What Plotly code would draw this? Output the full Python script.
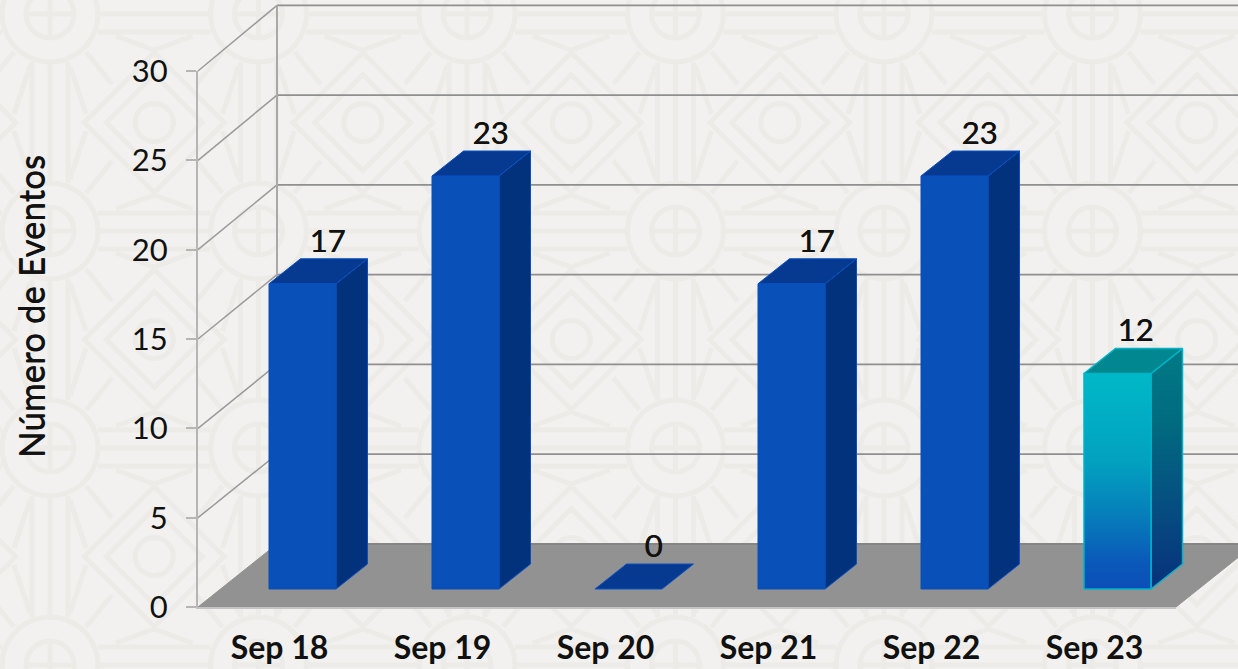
import math
import plotly.graph_objects as go

categories = ["Sep 18", "Sep 19", "Sep 20", "Sep 21", "Sep 22", "Sep 23"]
eventos = [17, 23, 0, 17, 23, 12]
y_ticks = [0, 5, 10, 15, 20, 25, 30]
y_title = "Número de Eventos"

W, H = 1238, 669
# front plane of the chart box, in page pixels
LEFT, RIGHT, FLOOR, TOP = 198, 1176, 607, 71
PX_X = (RIGHT - LEFT) / len(categories)      # pixels per category
PX_Y = (FLOOR - TOP) / y_ticks[-1]           # pixels per event

# oblique depth, in axis units
WALL_DX, WALL_DY = 79 / PX_X, 63 / PX_Y      # whole box
DEPTH_K = 1.005                              # value scale of planes behind the front one
BAR_SHIFT_X, BAR_SHIFT_Y = 22 / PX_X, 18 / PX_Y  # bars stand this far inside the box
BAR_W = 67 / PX_X
BAR_DX, BAR_DY = 31.5 / PX_X, 25 / PX_Y      # depth of each bar
BAR_OFFSET = -0.0644                         # left edge of a bar relative to its category

FONT = "Lato"
TXT = "#111111"
BG = "#f2f1ef"
PAT = "#ecebe7"
THICK = "0.5px 0 0 #111111"


# ---- watermark pattern (page decoration, paper coordinates) ----
def P(x, y):
    return f"{x / W:.5f},{1 - y / H:.5f}"


def poly(points, close=False):
    return "M" + "L".join(P(*p) for p in points) + ("Z" if close else "")


def ring(cx, cy, r):
    pts = [(cx + r * math.cos(k * math.pi / 18), cy + r * math.sin(k * math.pi / 18)) for k in range(36)]
    return poly(pts, True)


paths = []
PER_X, PER_Y = 208.5, 217
for a in range(-1, 7):
    for b in range(-1, 4):
        cx, cy = 50 + a * PER_X, 14 + b * PER_Y
        paths += [ring(cx, cy, 48), ring(cx, cy, 24)]
        paths.append(poly([(cx, cy - 24), (cx, cy + 24)]))
        paths.append(poly([(cx - 24, cy), (cx + 24, cy)]))
        dx, dy = cx + PER_X / 2, cy + PER_Y / 2
        paths += [ring(dx, dy, 19)]
        for h in (48, 70):
            paths.append(poly([(dx - h, dy), (dx, dy - h), (dx + h, dy), (dx, dy + h)], True))
        for o in (-18, 0, 18):
            paths.append(poly([(cx + o, cy + 48), (cx + o, cy + PER_Y - 48)]))
            paths.append(poly([(cx + 48, cy + o), (cx + PER_X - 48, cy + o)]))
        for sx in (-1, 1):
            for sy in (-1, 1):
                paths.append(poly([(cx + sx * 20, cy + sy * 52), (cx + sx * 36, cy + sy * 100)]))
                paths.append(poly([(cx + sx * 36, cy + sy * 38), (cx + sx * 62, cy + sy * 70)]))
                paths.append(poly([(cx + sx * 66, cy + sy * 22), (cx + sx * 104, cy + sy * 36)]))

shapes = [dict(type="path", xref="paper", yref="paper", layer="below", path="".join(paths),
               line=dict(color=PAT, width=5))]

fig = go.Figure()


def face(xs, ys, color=None, line=None, width=1, gradient=None):
    kw = dict(x=xs + xs[:1], y=ys + ys[:1], mode="lines", fill="toself", hoverinfo="skip", showlegend=False,
              line=dict(color=line or color, width=width))
    if gradient:
        kw["fillgradient"] = dict(type="vertical", colorscale=gradient)
    else:
        kw["fillcolor"] = color
    fig.add_trace(go.Scatter(**kw))


x0, x1 = -0.5, len(categories) - 0.5

# floor
face([x0, x1, x1 + WALL_DX, x0 + WALL_DX], [0, 0, WALL_DY, WALL_DY], color="#929292", line="#929292", width=1)
fig.add_trace(go.Scatter(x=[x0 + WALL_DX, x1 + WALL_DX], y=[WALL_DY, WALL_DY], mode="lines",
                         line=dict(color="#858585", width=2), hoverinfo="skip", showlegend=False))

# back wall + side wall grid lines
gx, gy = [], []
sx, sy = [], []
for t in y_ticks:
    if t > 0:
        back = t * DEPTH_K + WALL_DY
        gx += [x0 + WALL_DX, x1 + WALL_DX, None]
        gy += [back, back, None]
        sx += [x0, x0 + WALL_DX, None]
        sy += [t, back, None]
fig.add_trace(go.Scatter(x=gx, y=gy, mode="lines", line=dict(color="#8f8f8f", width=1.8),
                         hoverinfo="skip", showlegend=False))
fig.add_trace(go.Scatter(x=sx, y=sy, mode="lines", line=dict(color="#9a9a9a", width=1.5),
                         hoverinfo="skip", showlegend=False))
fig.add_trace(go.Scatter(x=[x0 + WALL_DX] * 2, y=[WALL_DY, y_ticks[-1] * DEPTH_K + WALL_DY], mode="lines",
                         line=dict(color="#a8a8a8", width=2), hoverinfo="skip", showlegend=False))

# bars
FRONT_GRAD = [[0, "#0b4fb9"], [0.12, "#0a58b9"], [0.35, "#067fbb"], [0.6, "#02a2c0"], [1, "#00b8c8"]]
SIDE_GRAD = [[0, "#07307c"], [0.3, "#064a80"], [0.7, "#016b80"], [1, "#007a85"]]
LAST = len(categories) - 1

for i, v in enumerate(eventos):
    l = i + BAR_OFFSET
    r = l + BAR_W
    b = BAR_SHIFT_Y
    t = b + v * DEPTH_K
    edge = "#00b4c8" if i == LAST else "#0a50c4"
    top_col = "#00878f" if i == LAST else "#063a90"
    ew = 1.5 if i == LAST else 1
    if v > 0:
        if i == LAST:
            face([r, r + BAR_DX, r + BAR_DX, r], [b, b + BAR_DY, t + BAR_DY, t], line=edge, width=ew, gradient=SIDE_GRAD)
            face([l, r, r, l], [b, b, t, t], line=edge, width=ew, gradient=FRONT_GRAD)
        else:
            face([r, r + BAR_DX, r + BAR_DX, r], [b, b + BAR_DY, t + BAR_DY, t], color="#03327c", line=edge)
            face([l, r, r, l], [b, b, t, t], color="#0950b8", line="#0950b8")
    face([l, r, r + BAR_DX, l + BAR_DX], [t, t, t + BAR_DY, t + BAR_DY], color=top_col, line=edge, width=ew)

# data labels
LABEL_DX = 25 / PX_X
LABEL_DX_LAST = 18 / PX_X
LABEL_DY = 15 / PX_Y
fig.add_trace(go.Scatter(
    x=[i + BAR_OFFSET + BAR_W / 2 + (LABEL_DX_LAST if i == LAST else LABEL_DX) for i in range(len(eventos))],
    y=[BAR_SHIFT_Y + v * DEPTH_K + BAR_DY + LABEL_DY for v in eventos],
    mode="text", text=[str(v) for v in eventos], textposition="middle center",
    textfont=dict(family=FONT, size=31, color=TXT, shadow=THICK),
    hoverinfo="skip", showlegend=False))

# carrier trace for the real category / value axes (front plane of the box)
fig.add_trace(go.Scatter(x=categories, y=eventos, xaxis="x2", yaxis="y2", mode="markers",
                         marker=dict(opacity=0, size=1), hoverinfo="skip", showlegend=False))

fig.update_layout(
    template="none",
    width=W, height=H, autosize=False,
    margin=dict(l=0, r=0, t=0, b=0, pad=0),
    paper_bgcolor=BG, plot_bgcolor="rgba(0,0,0,0)",
    shapes=shapes, showlegend=False, hovermode=False,
    xaxis=dict(domain=[0, 1], range=[x0 - LEFT / PX_X, x0 + (W - LEFT) / PX_X], visible=False,
               fixedrange=True, automargin=False),
    yaxis=dict(domain=[0, 1], range=[(FLOOR - H) / PX_Y, FLOOR / PX_Y], visible=False,
               fixedrange=True, automargin=False),
    xaxis2=dict(domain=[LEFT / W, RIGHT / W], anchor="y2", type="category",
                categoryorder="array", categoryarray=categories, range=[x0, x1],
                tickmode="array", tickvals=categories, ticktext=categories,
                ticks="", showgrid=False, zeroline=False, showline=True, linecolor="#c4c4c4", linewidth=2,
                tickfont=dict(family=FONT, size=32, color=TXT, weight=700),
                ticklabelstandoff=12, fixedrange=True, automargin=False),
    yaxis2=dict(domain=[(H - FLOOR) / H, (H - TOP) / H], anchor="x2", range=[0, 30],
                tickmode="array", tickvals=y_ticks, ticks="outside", ticklen=10, tickwidth=1.5, tickcolor="#b5b5b5",
                showgrid=False, zeroline=False, showline=True, linecolor="#b5b5b5", linewidth=2,
                tickfont=dict(family=FONT, size=31, color=TXT),
                ticklabelstandoff=12, fixedrange=True, automargin=False),
    annotations=[dict(text=y_title, textangle=-90, xref="paper", yref="paper", x=30 / W, y=1 - 307 / H,
                      xanchor="center", yanchor="middle", showarrow=False,
                      font=dict(family=FONT, size=35, color=TXT, shadow="0 0.5px 0 #111111"))],
)

fig.write_html("out.html", config=dict(displayModeBar=False),
               post_script="document.body.style.margin='0';document.body.style.overflow='hidden';")
